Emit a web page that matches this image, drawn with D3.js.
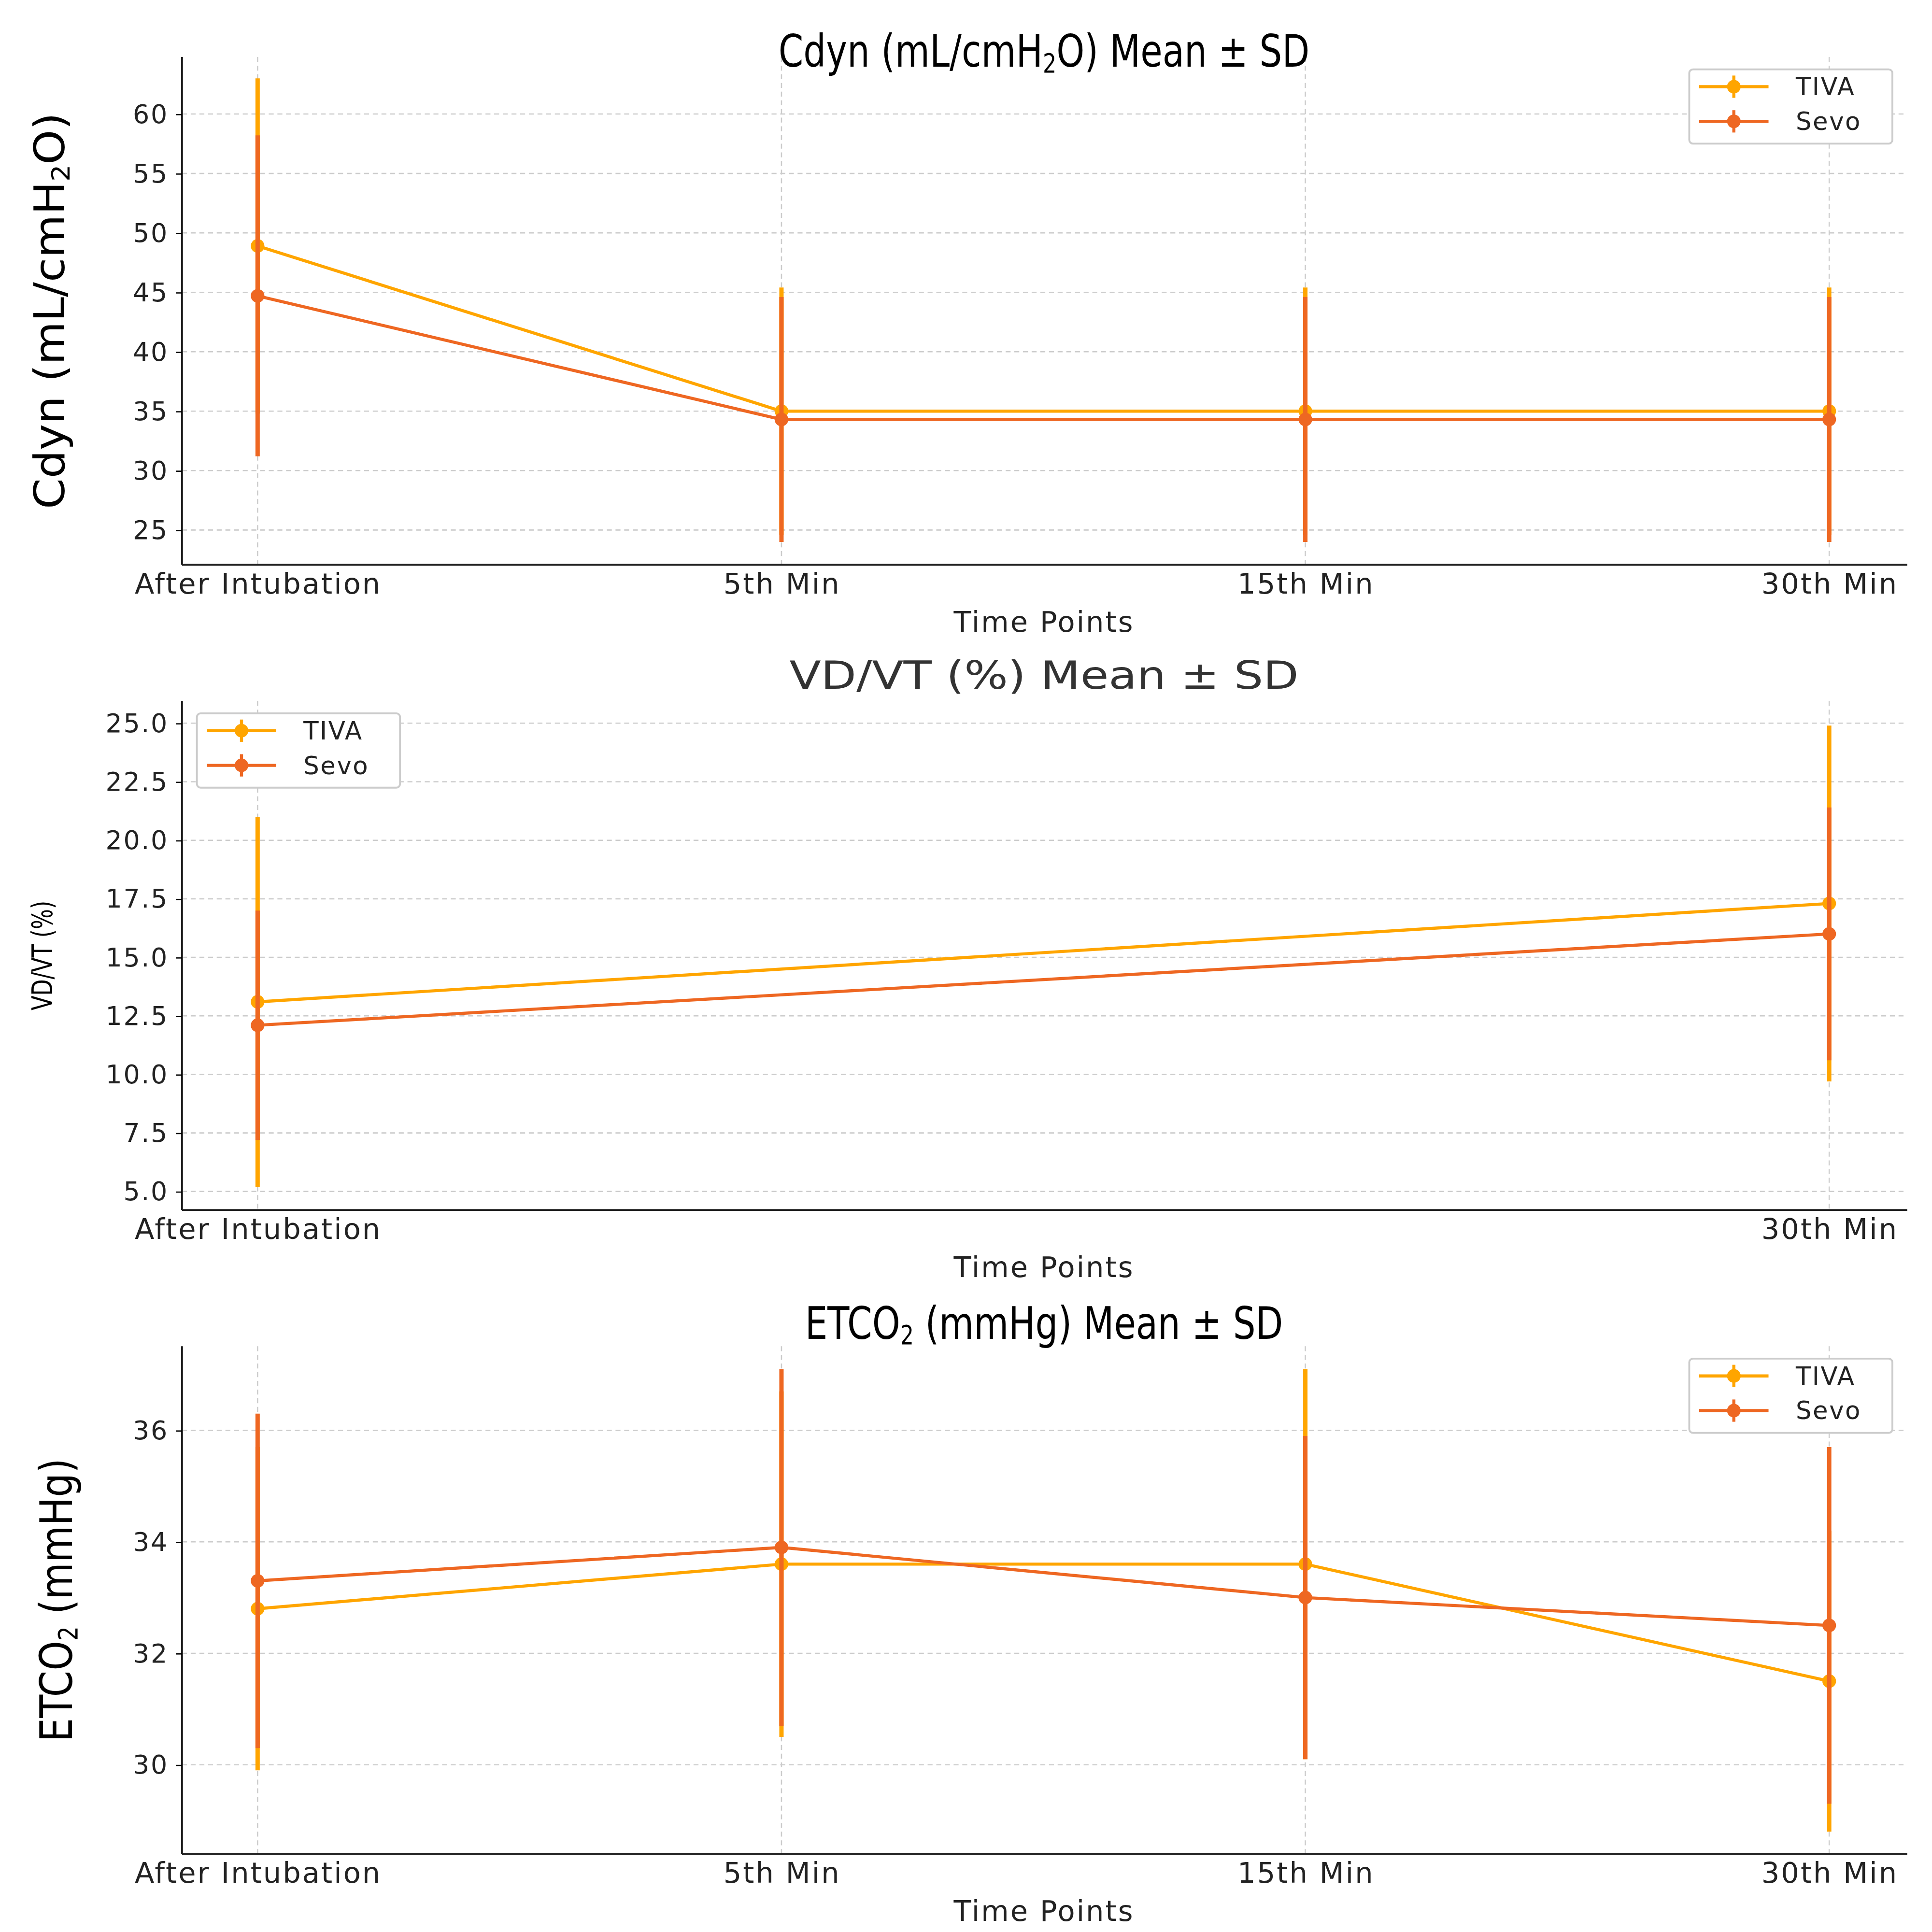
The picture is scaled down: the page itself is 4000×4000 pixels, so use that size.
<!DOCTYPE html>
<html><head><meta charset="utf-8">
<script src="https://cdn.jsdelivr.net/npm/d3@7"></script>
<style>body{margin:0;background:#fff}</style>
</head><body>
<script>
// values
const cats4 = ['After Intubation', '5th Min', '15th Min', '30th Min'];
const cats2 = ['After Intubation', '30th Min'];
const series = ['TIVA', 'Sevo'];

const cdynTivaMean = [48.9, 35.0, 35.0, 35.0];
const cdynTivaSd = [14.1, 10.4, 10.4, 10.4];
const cdynSevoMean = [44.7, 34.3, 34.3, 34.3];
const cdynSevoSd = [13.5, 10.3, 10.3, 10.3];

const vdTivaMean = [13.1, 17.3];
const vdTivaSd = [7.9, 7.6];
const vdSevoMean = [12.1, 16.0];
const vdSevoSd = [4.9, 5.4];

const etTivaMean = [32.8, 33.6, 33.6, 31.5];
const etTivaSd = [2.9, 3.1, 3.5, 2.7];
const etSevoMean = [33.3, 33.9, 33.0, 32.5];
const etSevoSd = [3.0, 3.2, 2.9, 3.2];

const cdynTicks = [25, 30, 35, 40, 45, 50, 55, 60];
const vdTicks = [5, 7.5, 10, 12.5, 15, 17.5, 20, 22.5, 25];
const etTicks = [30, 32, 34, 36];

const colors = { TIVA: '#FFA500', Sevo: '#EE6722' };

const svg = d3.select('body').append('svg')
  .attr('width', 4000).attr('height', 4000)
  .attr('viewBox', '0 0 1560 1560');
svg.append('rect').attr('width', 1560).attr('height', 1560).attr('fill', '#fff');

const left = 147, right = 1540;
const wide = 'DejaVu Sans';

// text with optional subscript pieces and horizontal squeeze
function richText(g, x, y, rot, sx, size, font, color, parts) {
  const t = g.append('text')
    .attr('transform', `translate(${x},${y}) rotate(${rot}) scale(${sx},1)`)
    .attr('text-anchor', 'middle').attr('font-family', font).attr('font-size', size).attr('fill', color);
  parts.forEach(p => t.append('tspan').text(p[0])
    .attr('font-size', p[1] ? size * 0.6 : null)
    .attr('dy', p[1] ? size * 0.12 : (p[2] ? -size * 0.12 : null)));
  return t;
}

function panel(o) {
  const g = svg.append('g');
  const x = d3.scalePoint().domain(o.cats).range([208, 1477]);
  const y = d3.scaleLinear().domain(o.domain).range([o.bottom, o.top]);

  // grid
  g.selectAll('.gy').data(o.ticks).enter().append('line')
    .attr('x1', left).attr('x2', right)
    .attr('y1', d => y(d)).attr('y2', d => y(d))
    .attr('stroke', '#ccc').attr('stroke-dasharray', '4,3');
  g.selectAll('.gx').data(o.cats).enter().append('line')
    .attr('x1', d => x(d)).attr('x2', d => x(d))
    .attr('y1', o.top).attr('y2', o.bottom)
    .attr('stroke', '#ccc').attr('stroke-dasharray', '4,3');

  const ax = g.append('g').attr('transform', `translate(0,${o.bottom})`)
    .call(d3.axisBottom(x).tickSize(0).tickPadding(6));
  ax.select('.domain').attr('d', `M${left},0H${right}`).attr('stroke', '#222').attr('stroke-width', 1.5);
  ax.selectAll('text').attr('font-family', wide).attr('font-size', 23).attr('letter-spacing', 1.2)
    .attr('fill', '#222').attr('dy', '0.75em');

  const ay = g.append('g').attr('transform', `translate(${left},0)`)
    .call(d3.axisLeft(y).tickValues(o.ticks).tickFormat(o.fmt).tickSize(5).tickPadding(6));
  ay.select('.domain').attr('d', `M0,${o.top}V${o.bottom}`).attr('stroke', '#222').attr('stroke-width', 1.5);
  ay.selectAll('text').attr('font-family', wide).attr('font-size', 21).attr('letter-spacing', 1).attr('fill', '#222');

  const sets = [
    { name: 'TIVA', mean: o.tMean, sd: o.tSd },
    { name: 'Sevo', mean: o.sMean, sd: o.sSd }
  ];
  sets.forEach(s => {
    const c = colors[s.name];
    const pts = o.cats.map((k, i) => ({ k, m: s.mean[i], sd: s.sd[i] }));
    g.selectAll(null).data(pts).enter().append('line')
      .attr('x1', d => x(d.k)).attr('x2', d => x(d.k))
      .attr('y1', d => y(d.m - d.sd)).attr('y2', d => y(d.m + d.sd))
      .attr('stroke', c).attr('stroke-width', 3.5);
    g.append('path').datum(pts)
      .attr('d', d3.line().x(d => x(d.k)).y(d => y(d.m)))
      .attr('fill', 'none').attr('stroke', c).attr('stroke-width', 2.5);
    g.selectAll(null).data(pts).enter().append('circle')
      .attr('cx', d => x(d.k)).attr('cy', d => y(d.m)).attr('r', 5.5).attr('fill', c);
  });

  richText(g, 843, o.titleY, 0, o.titleSx, o.titleSize, wide, o.titleColor || '#000', o.title);
  richText(g, o.ylX, (o.top + o.bottom) / 2, -90, o.ylSx, o.ylSize, wide, '#000', o.ylabel);

  g.append('text').attr('x', 843).attr('y', o.bottom + 54).attr('text-anchor', 'middle')
    .attr('font-family', wide).attr('font-size', 23).attr('letter-spacing', 1.2).attr('fill', '#222').text('Time Points');

  // legend
  const lg = g.append('g').attr('transform', `translate(${o.legX},${o.legY})`);
  lg.append('rect').attr('width', 164).attr('height', 60).attr('rx', 3)
    .attr('fill', '#fff').attr('stroke', '#ccc').attr('stroke-width', 1.5);
  series.forEach((s, i) => {
    const yy = 14 + i * 28;
    lg.append('line').attr('x1', 8).attr('x2', 64).attr('y1', yy).attr('y2', yy).attr('stroke', colors[s]).attr('stroke-width', 2.5);
    lg.append('line').attr('x1', 36).attr('x2', 36).attr('y1', yy - 9).attr('y2', yy + 9).attr('stroke', colors[s]).attr('stroke-width', 2.5);
    lg.append('circle').attr('cx', 36).attr('cy', yy).attr('r', 5.5).attr('fill', colors[s]);
    lg.append('text').attr('x', 86).attr('y', yy + 7).attr('font-family', wide).attr('font-size', 20)
      .attr('letter-spacing', 1).attr('fill', '#222').text(s);
  });
}

panel({
  cats: cats4, top: 46, bottom: 456, domain: [22.08, 64.8], ticks: cdynTicks, fmt: d3.format('d'),
  tMean: cdynTivaMean, tSd: cdynTivaSd, sMean: cdynSevoMean, sSd: cdynSevoSd,
  title: [['Cdyn (mL/cmH'], ['2', true], ['O) Mean ± SD', false, true]], titleY: 54, titleSx: 0.8, titleSize: 36,
  ylabel: [['Cdyn (mL/cmH'], ['2', true], ['O)', false, true]], ylX: 52, ylSx: 1.05, ylSize: 34,
  legX: 1364, legY: 56
});
panel({
  cats: cats2, top: 566, bottom: 977, domain: [4.21, 25.95], ticks: vdTicks, fmt: d3.format('.1f'),
  tMean: vdTivaMean, tSd: vdTivaSd, sMean: vdSevoMean, sSd: vdSevoSd,
  title: [['VD/VT (%) Mean ± SD']], titleY: 556, titleSx: 1.2, titleSize: 31, titleColor: '#333',
  ylabel: [['VD/VT (%)']], ylX: 42, ylSx: 0.75, ylSize: 23,
  legX: 159, legY: 576
});
panel({
  cats: cats4, top: 1087, bottom: 1497, domain: [28.4, 37.51], ticks: etTicks, fmt: d3.format('d'),
  tMean: etTivaMean, tSd: etTivaSd, sMean: etSevoMean, sSd: etSevoSd,
  title: [['ETCO'], ['2', true], [' (mmHg) Mean ± SD', false, true]], titleY: 1081, titleSx: 0.8, titleSize: 36,
  ylabel: [['ETCO'], ['2', true], [' (mmHg)', false, true]], ylX: 58, ylSx: 0.85, ylSize: 36,
  legX: 1364, legY: 1097
});
</script>
</body></html>
